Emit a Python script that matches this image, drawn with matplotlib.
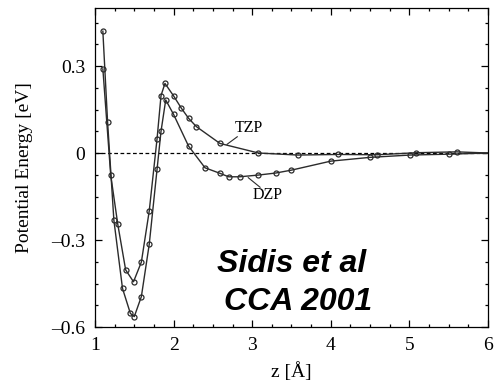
import numpy as np
import matplotlib
matplotlib.use("Agg")
from matplotlib import pyplot as plt
from matplotlib.ticker import MultipleLocator

# values (z in Angstrom, energy in eV)
tzp_z = [1.10, 1.20, 1.29, 1.39, 1.49, 1.59, 1.69, 1.79, 1.84, 1.89, 2.00, 2.10,
         2.19, 2.29, 2.59, 3.08, 3.58, 4.09, 4.59, 5.09, 5.60, 6.00]
tzp_e = [0.29, -0.076, -0.246, -0.403, -0.444, -0.376, -0.200, 0.050, 0.198, 0.240,
         0.197, 0.154, 0.120, 0.091, 0.033, 0.000, -0.007, -0.005, -0.006, 0.001,
         0.004, 0.000]

dzp_z = [1.10, 1.16, 1.24, 1.35, 1.45, 1.50, 1.59, 1.69, 1.79, 1.84, 1.90, 2.00,
         2.19, 2.40, 2.59, 2.70, 2.84, 3.08, 3.30, 3.50, 4.00, 4.50, 5.01, 5.50, 6.00]
dzp_e = [0.42, 0.108, -0.231, -0.467, -0.553, -0.564, -0.495, -0.315, -0.055, 0.075,
         0.183, 0.133, 0.024, -0.051, -0.070, -0.082, -0.082, -0.076, -0.069, -0.059,
         -0.028, -0.015, -0.007, -0.004, 0.000]

xticks = [1, 2, 3, 4, 5, 6]
yticks = [-0.6, -0.3, 0, 0.3]
ytick_labels = ["\u20130.6", "\u20130.3", "0", "0.3"]

serif = ["Liberation Serif", "DejaVu Serif"]
line_col = "#2b2b2b"

fig = plt.figure(figsize=(4.94, 3.85), dpi=100, facecolor="w")
ax = fig.add_axes([0.1923, 0.1506, 0.7955, 0.8286])

ax.axhline(0, color="black", lw=0.9, ls=(0, (3, 2)))

for z, e in [(tzp_z, tzp_e), (dzp_z, dzp_e)]:
    ax.plot(z, e, color=line_col, lw=1.0, marker="o", ms=3.6, mfc="none",
            mec=line_col, mew=0.9, markevery=list(range(len(z) - 1)))

# curve labels with leader lines
ax.plot([2.68, 2.81], [0.030, 0.056], color=line_col, lw=0.8)
ax.text(2.96, 0.086, "TZP", ha="center", va="center", fontsize=11.5, family=serif)
ax.plot([2.95, 3.10], [-0.085, -0.118], color=line_col, lw=0.8)
ax.text(3.19, -0.145, "DZP", ha="center", va="center", fontsize=11.5, family=serif)

ax.text(3.50, -0.410, "Sidis et al", ha="center", va="baseline", fontsize=23,
        fontweight="bold", fontstyle="italic", family="Liberation Sans")
ax.text(3.58, -0.541, "CCA 2001", ha="center", va="baseline", fontsize=23,
        fontweight="bold", fontstyle="italic", family="Liberation Sans")

ax.set_xlim(1, 6)
ax.set_ylim(-0.6, 0.5)
ax.set_xticks(xticks)
ax.set_yticks(yticks)
ax.set_yticklabels(ytick_labels)
ax.xaxis.set_minor_locator(MultipleLocator(0.25))
ax.yaxis.set_minor_locator(MultipleLocator(0.075))
ax.tick_params(which="both", direction="in", top=True, right=True, width=0.9)
ax.tick_params(which="major", length=5, labelsize=14, pad=7)
ax.tick_params(which="minor", length=2.5)
for lab in ax.get_xticklabels() + ax.get_yticklabels():
    lab.set_family(serif)
for sp in ax.spines.values():
    sp.set_linewidth(0.9)

ax.set_xlabel("z [\u00c5]", fontsize=14, family=serif, labelpad=6)
ax.set_ylabel("Potential Energy [eV]", fontsize=14, family=serif, labelpad=13)

fig.savefig("out.png", dpi=100, facecolor="w")
